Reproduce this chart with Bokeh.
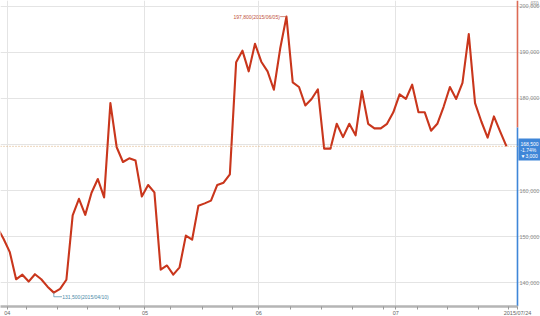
from bokeh.plotting import figure
from bokeh.models import Range1d, FixedTicker, NumeralTickFormatter, Span, Label
from bokeh.embed import file_html
from bokeh.resources import INLINE

# Daily closing prices (yen), one per trading day
closes = [
    152000, 149500, 146600, 140700, 141700, 140200, 141800, 140700, 139100, 137800,
    138600, 140600, 154600, 158200, 154700, 159500, 162500, 158500, 179000, 169400,
    166200, 167000, 166500, 158700, 161200, 159600, 142800, 143700, 141700, 143300,
    150200, 149300, 156700, 157200, 157800, 161200, 161700, 163500, 187900, 190400,
    185900, 191900, 188000, 185900, 181900, 190800, 197800, 183500, 182500, 178500,
    179900, 182000, 169100, 169100, 174500, 171600, 174500, 172000, 181600, 174500,
    173500, 173500, 174500, 177000, 180900, 179900, 183000, 177000, 177000, 173000,
    174500, 178200, 182500, 179900, 183400, 194000, 179000, 175000, 171500, 176100,
    172800, 169600,
]
day_index = list(range(len(closes)))

# Month boundaries (in trading-day index units) and their labels
month_ticks = [1.6, 23.5, 41.6, 63.4]
month_labels = ["04", "05", "06", "07"]
# Weekly minor ticks
week_ticks = [4.7, 9.6, 14.4, 19.5, 27.6, 32.7, 37.4, 46.7, 51.6, 56.5, 61.4, 66.9, 71.6, 76.6, 81.3]
# Price axis ticks
y_ticks = [140000, 150000, 160000, 170000, 180000, 190000, 200000]

high_val, high_idx, high_text = 197800, 46, "197,800(2015/06/05)"
low_idx, low_text = 9, "131,500(2015/04/10)"
last_text = "168,500\n-1.74%\n\u25bc3,000"
last_date = "2015/07/24"
unit_text = "(円)"

FONT = "Liberation Sans"
LINE = "#c9361c"

X0, X1 = 0.52, 86.41
Y0, Y1 = 134783, 201304
x_edge = 82.75          # price-axis line position (right end of chart area)
split_val = 173700      # where the price-axis line changes colour

p = figure(frame_width=540, frame_height=306, output_backend="svg", toolbar_location=None,
           x_range=Range1d(X0, X1), y_range=Range1d(Y0, Y1),
           y_axis_location="right", min_border_left=0, min_border_top=0,
           min_border_right=0, min_border_bottom=10,
           background_fill_color="white", border_fill_color="white",
           outline_line_color=None)

# grids
p.xgrid.ticker = FixedTicker(ticks=month_ticks)
p.xgrid.grid_line_color = "#e4e4e4"
p.ygrid.ticker = FixedTicker(ticks=y_ticks)
p.ygrid.grid_line_color = "#e4e4e4"
p.ygrid.bounds = (X0, x_edge)

# x axis (month labels + last date at the right end)
xa = p.xaxis[0]
xa.ticker = FixedTicker(ticks=month_ticks + [x_edge], minor_ticks=week_ticks)
overrides = {t: l for t, l in zip(month_ticks, month_labels)}
overrides[x_edge] = last_date
xa.major_label_overrides = overrides
xa.bounds = (X0, x_edge)
xa.axis_line_color = "#b5b5b5"
xa.axis_line_width = 2.5
xa.major_tick_out = 3
xa.major_tick_in = 0
xa.minor_tick_out = 3
xa.minor_tick_in = 0
xa.major_tick_line_color = "#999999"
xa.minor_tick_line_color = "#999999"
xa.major_label_standoff = 0
xa.major_label_text_font = FONT
xa.major_label_text_font_size = "5.5px"
xa.major_label_text_color = "#666666"
xa.major_label_text_align = "left"

# y axis (right); labels pulled back over the chart's right margin
ya = p.yaxis[0]
ya.ticker = FixedTicker(ticks=y_ticks)
ya.formatter = NumeralTickFormatter(format="0,0")
ya.axis_line_color = None
ya.major_tick_out = 0
ya.major_tick_in = 0
ya.minor_tick_out = 0
ya.minor_tick_in = 0
ya.major_label_standoff = -21
ya.major_label_text_font = FONT
ya.major_label_text_font_size = "5.5px"
ya.major_label_text_color = "#888888"

# last price dotted line
last_val = closes[-1]
p.add_layout(Span(location=last_val, dimension="width", line_color="#dcae78",
                  line_dash="1 2", line_width=1))

# price line
p.line(day_index, closes, line_color=LINE, line_width=2.1, line_join="round")

# right edge colored axis line
p.segment(x0=[x_edge], y0=[Y1], x1=[x_edge], y1=[split_val], line_color="#dd6a55", line_width=1.6)
p.segment(x0=[x_edge], y0=[split_val], x1=[x_edge], y1=[Y0], line_color="#3f86d8", line_width=1.6)

# high annotation
p.line([high_idx - 1.0, high_idx], [high_val, high_val], line_color="#c86a55", line_width=0.8)
p.add_layout(Label(x=high_idx - 1.05, y=high_val, text=high_text, text_align="right",
                   text_baseline="middle", text_font=FONT, text_font_size="5px",
                   text_color="#c0503a"))

# low annotation
low_val = closes[low_idx]
p.line([low_idx, low_idx, low_idx + 1.3], [low_val, low_val - 900, low_val - 900],
       line_color="#5a96b0", line_width=0.8)
p.add_layout(Label(x=low_idx + 1.35, y=low_val - 900, text=low_text, text_align="left",
                   text_baseline="middle", text_font=FONT, text_font_size="5px",
                   text_color="#4a88a6"))

# last price box
p.add_layout(Label(x=x_edge + 0.15, y=171300, text=last_text, text_align="left",
                   text_baseline="top", text_font=FONT, text_font_size="5px",
                   text_color="white", background_fill_color="#3f86d8",
                   padding=2, text_line_height=1.0))

# unit
p.add_layout(Label(x=84.8, y=200800, text=unit_text, text_align="left", text_baseline="middle",
                   text_font=FONT, text_font_size="5px", text_color="#777777"))

open("out.html", "w").write(file_html(p, INLINE))
